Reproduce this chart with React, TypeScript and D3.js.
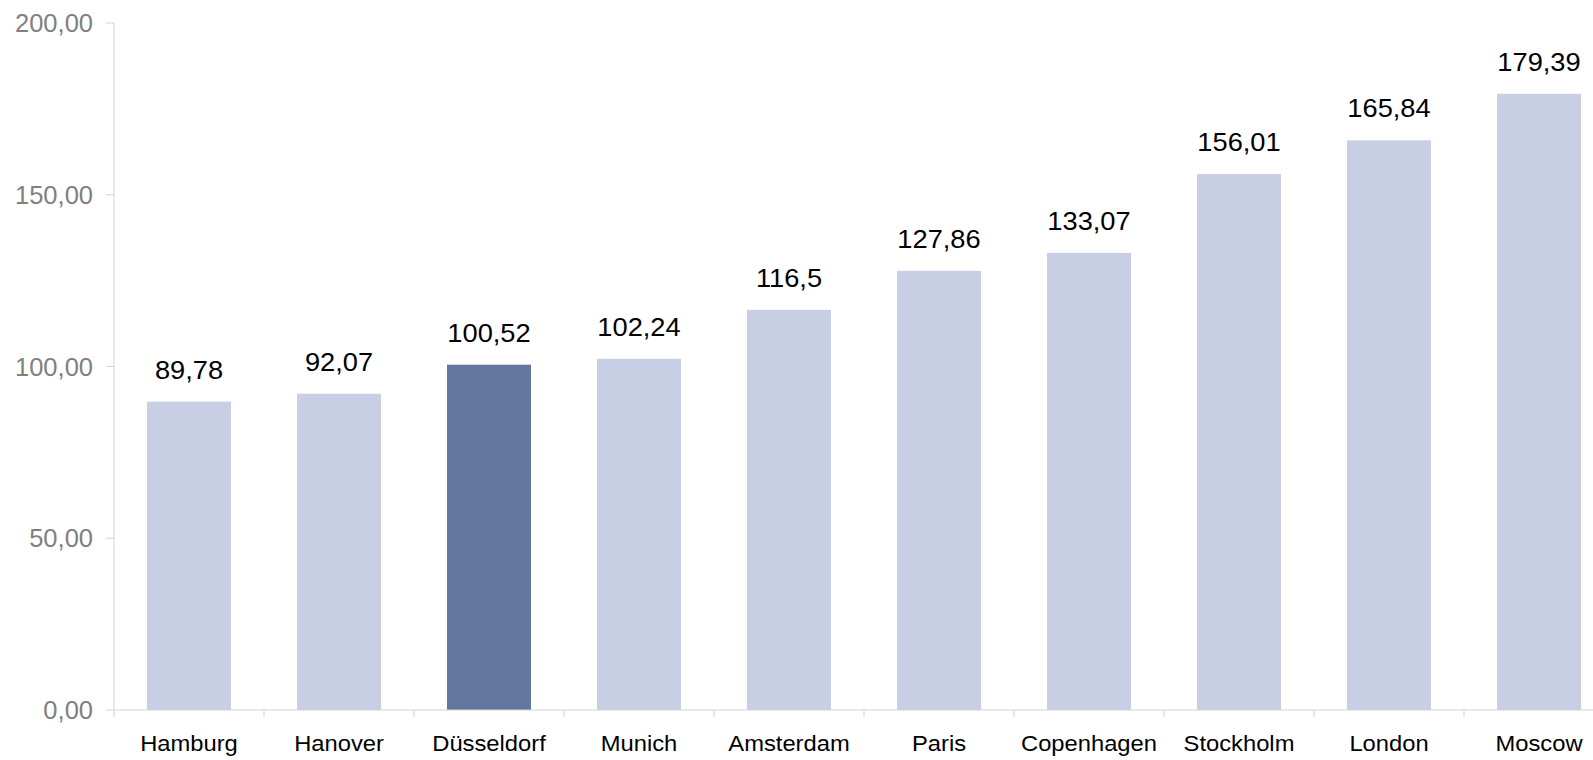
import React from "react";
import * as d3 from "d3";

const categories = ["Hamburg", "Hanover", "Düsseldorf", "Munich", "Amsterdam", "Paris", "Copenhagen", "Stockholm", "London", "Moscow"];
const values = [89.78, 92.07, 100.52, 102.24, 116.5, 127.86, 133.07, 156.01, 165.84, 179.39];
const highlighted = ["Düsseldorf"];
const yTicks = [0, 50, 100, 150, 200];

const W = 1593;
const H = 760;
const LIGHT = "#C8CEE3";
const DARK = "#62769E";
const AXIS = "#D3D3D3";
const FONT = "Liberation Sans, Arial, sans-serif";

export default function App() {
  const x = d3.scaleBand<string>().domain(categories).range([114, 1614]).paddingInner(0.44).paddingOuter(0.22);
  const y = d3.scaleLinear().domain([0, 200]).range([710, 23]);
  const step = x.step();
  const fmtTick = (v: number) => d3.format(".2f")(v).replace(".", ",");
  const fmtVal = (v: number) => String(v).replace(".", ",");

  return (
    <svg width={W} height={H} style={{ position: "absolute", left: 0, top: 0, background: "#fff" }} fontFamily={FONT}>
      {/* y axis */}
      <line x1={114} x2={114} y1={y(200)} y2={717} stroke={AXIS} strokeWidth={1} />
      {yTicks.map((t) => (
        <g key={t}>
          <line x1={106} x2={114} y1={y(t)} y2={y(t)} stroke={AXIS} />
          <text x={93} y={y(t) + 9} textAnchor="end" fontSize={25.5} fill="#808080">
            {fmtTick(t)}
          </text>
        </g>
      ))}
      {/* bars */}
      {categories.map((c, i) => (
        <rect
          key={c}
          x={x(c)!}
          width={x.bandwidth()}
          y={y(values[i])}
          height={y(0) - y(values[i])}
          fill={highlighted.includes(c) ? DARK : LIGHT}
        />
      ))}
      {/* x axis */}
      <line x1={114} x2={1614} y1={y(0)} y2={y(0)} stroke={AXIS} />
      {categories.map((c) => {
        const bx = x(c)! - (step - x.bandwidth()) / 2;
        return <line key={"t" + c} x1={bx + step} x2={bx + step} y1={y(0)} y2={717} stroke={AXIS} />;
      })}
      {categories.map((c) => (
        <text
          key={"l" + c}
          transform={`translate(${x(c)! + x.bandwidth() / 2},751) scale(1.08,1)`}
          textAnchor="middle"
          fontSize={22}
          fill="#000"
        >
          {c}
        </text>
      ))}
      {/* value labels */}
      {categories.map((c, i) => (
        <text
          key={"v" + c}
          transform={`translate(${x(c)! + x.bandwidth() / 2},${y(values[i]) - 23}) scale(1.09,1)`}
          textAnchor="middle"
          fontSize={25}
          fill="#000"
        >
          {fmtVal(values[i])}
        </text>
      ))}
    </svg>
  );
}
